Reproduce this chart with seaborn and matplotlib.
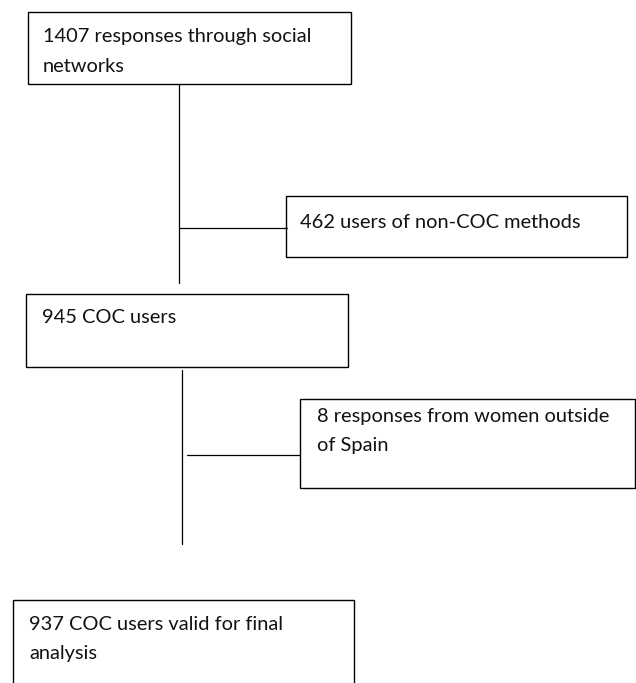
import matplotlib
matplotlib.use("Agg")
import matplotlib.pyplot as plt
import seaborn as sns
from matplotlib.patches import Rectangle

sns.set_theme(style="white")
plt.rcParams['font.family'] = ['Lato', 'DejaVu Sans']

# box texts (one entry per box, lines split by \n)
labels = [
    "1407 responses through social\nnetworks",
    "462 users of non-COC methods",
    "945 COC users",
    "8 responses from women outside\nof Spain",
    "937 COC users valid for final\nanalysis",
]

# layout in pixel coords: x0, y0, x1, y1 (y down)
boxes = [
    (28, 12, 351, 84),
    (286, 196, 627, 257),
    (26, 294, 348, 367),
    (300, 399, 635, 488),
    (13, 600, 354, 695),
]
text_pos = [(43, 42), (300, 228), (42, 323), (317, 422), (29, 630)]

# connectors: (x0, y0, x1, y1)
lines = [
    (179, 84, 179, 283),
    (179, 228, 287, 228),
    (182, 370, 182, 544),
    (187, 455, 300, 455),
]

fig = plt.figure(figsize=(6.36, 6.83), dpi=100)
ax = fig.add_axes([0, 0, 1, 1])
ax.set_xlim(0, 636)
ax.set_ylim(683, 0)
ax.axis("off")

for (x0, y0, x1, y1) in lines:
    ax.plot([x0, x1], [y0, y1], color="black", lw=0.9)

for (x0, y0, x1, y1), lab, (tx, ty) in zip(boxes, labels, text_pos):
    ax.add_patch(Rectangle((x0, y0), x1 - x0, y1 - y0, fill=False,
                           edgecolor="black", lw=1.0))
    for i, ln in enumerate(lab.split("\n")):
        ax.text(tx, ty + i * 29.5, ln, fontsize=14.4, va="baseline", ha="left",
                color="#111111")

plt.savefig("out.png", dpi=100)
